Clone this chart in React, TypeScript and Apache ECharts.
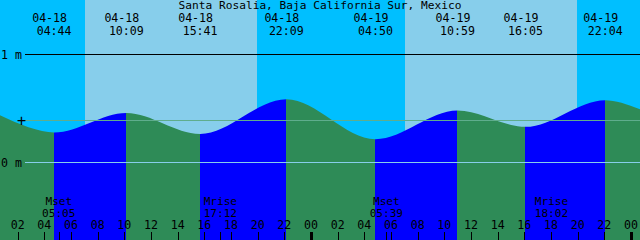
import React, { useEffect, useRef } from "react";
import * as echarts from "echarts";

const title = "Santa Rosalia, Baja California Sur, Mexico";

// Tide extremes. The first and last ones lie just outside the chart and only shape its edges.
const tideDates = ["04-17", "04-18", "04-18", "04-18", "04-18", "04-19", "04-19", "04-19", "04-19", "04-20"];
const tideTimes = ["21:36", "04:44", "10:09", "15:41", "22:09", "04:50", "10:59", "16:05", "22:04", "05:00"];
const tideLevels = [0.647, 0.278, 0.459, 0.265, 0.586, 0.216, 0.481, 0.33, 0.577, 0.206];
const tideLabelled = [false, true, true, true, true, true, true, true, true, false];

const sunriseDates = ["04-18", "04-19"];
const sunriseTimes = ["07:03", "07:03"];
const sunsetDates = ["04-18", "04-19"];
const sunsetTimes = ["19:56", "19:57"];

const moonNames = ["Mset", "Mrise", "Mset", "Mrise"];
const moonDates = ["04-18", "04-18", "04-19", "04-19"];
const moonTimes = ["05:05", "17:12", "05:39", "18:02"];

const hourTicks = [2, 4, 6, 8, 10, 12, 14, 16, 18, 20, 22, 24, 26, 28, 30, 32, 34, 36, 38, 40, 42, 44, 46, 48];
const hourLabels = ["02", "04", "06", "08", "10", "12", "14", "16", "18", "20", "22", "00",
  "02", "04", "06", "08", "10", "12", "14", "16", "18", "20", "22", "00"];

const levelValues = [1, 0.389, 0];
const levelLabels = ["1 m", "+", "0 m"];

// axis extents (hours since 04-18 00:00, metres)
const X_MIN = 0.675;
const X_MAX = 48.675;
const Y_MIN = -0.7176;
const Y_MAX = 1.5046;

const DAY = "#87CEEB";
const NIGHT = "#00BFFF";
const RISE = "#0000FF";
const FALL = "#2E8B57";
const FONT = "DejaVu Sans Mono";
const FS = 11.6;

function toHours(date: string, time: string): number {
  const day = Number(date.slice(3)) - 18;
  const [h, m] = time.split(":").map(Number);
  return day * 24 + h + m / 60;
}

const tideHours = tideTimes.map((t, i) => toHours(tideDates[i], t));
const sunrises = sunriseTimes.map((t, i) => toHours(sunriseDates[i], t));
const sunsets = sunsetTimes.map((t, i) => toHours(sunsetDates[i], t));
const moonHours = moonTimes.map((t, i) => toHours(moonDates[i], t));

function buildOption(): any {
  const bg: number[][] = [];
  let start = X_MIN;
  sunrises.forEach((sr, i) => {
    bg.push([start, sr, 0]);
    bg.push([sr, sunsets[i], 1]);
    start = sunsets[i];
  });
  bg.push([start, X_MAX, 0]);

  const pieces: any[] = [];
  for (let i = 0; i < tideHours.length - 1; i++) {
    pieces.push({
      gt: tideHours[i],
      lte: tideHours[i + 1],
      color: tideLevels[i + 1] > tideLevels[i] ? RISE : FALL,
    });
  }

  const labelled = tideHours
    .map((t, i) => ({ t, i }))
    .filter((d) => tideLabelled[d.i]);

  const txt = (text: string, x: number, y: number, align = "center", size = FS) => ({
    type: "text",
    x,
    y,
    style: {
      text,
      fill: "#000",
      fontFamily: FONT,
      fontSize: size,
      lineHeight: 10,
      align,
      verticalAlign: "middle",
    },
  });

  return {
    animation: false,
    grid: { left: 0, right: 0, top: 0, bottom: 0, containLabel: false },
    xAxis: {
      type: "value",
      min: X_MIN,
      max: X_MAX,
      show: false,
    },
    yAxis: {
      type: "value",
      min: Y_MIN,
      max: Y_MAX,
      show: false,
    },
    graphic: [
      {
        type: "text",
        x: 320,
        y: 5.6,
        z: 100,
        style: {
          text: title,
          fill: "#000",
          fontFamily: FONT,
          fontSize: 11.2,
          lineHeight: 10,
          align: "center",
          verticalAlign: "middle",
        },
      },
    ],
    visualMap: {
      type: "piecewise",
      show: false,
      dimension: 0,
      seriesIndex: 1,
      pieces,
    },
    series: [
      {
        type: "custom",
        z: 1,
        silent: true,
        clip: true,
        data: bg,
        renderItem: (params: any, api: any) => {
          const p0 = api.coord([api.value(0), Y_MAX]);
          const p1 = api.coord([api.value(1), Y_MIN]);
          const x0 = Math.round(p0[0]);
          const x1 = Math.round(p1[0]);
          return {
            type: "rect",
            shape: { x: x0, y: p0[1], width: x1 - x0, height: p1[1] - p0[1] },
            style: { fill: api.value(2) ? DAY : NIGHT },
          };
        },
      },
      {
        type: "line",
        z: 2,
        silent: true,
        clip: true,
        data: tideHours.map((t, i) => [t, tideLevels[i]]),
        smooth: 0.34,
        smoothMonotone: "x",
        symbol: "none",
        showSymbol: false,
        lineStyle: { width: 0, opacity: 0 },
        areaStyle: { opacity: 1, origin: "start" },
      },
      {
        type: "custom",
        z: 3,
        silent: true,
        clip: false,
        data: levelValues.map((v) => [X_MIN, v]),
        renderItem: (params: any, api: any) => {
          const i = params.dataIndex;
          const y = Math.floor(api.coord([X_MIN, api.value(1)])[1]) + 0.5;
          const colors = ["#000000", "#5FAD8D", "#87CEEB"];
          const children: any[] = [
            {
              type: "line",
              shape: { x1: 25, y1: y, x2: 640, y2: y },
              style: { stroke: colors[i], lineWidth: 1 },
            },
          ];
          if (levelLabels[i] === "+") {
            children.push(txt(levelLabels[i], 21.5, y + 0.5, "center", 15));
          } else {
            children.push(txt(levelLabels[i], 1, y, "left"));
          }
          return { type: "group", children };
        },
      },
      {
        type: "custom",
        z: 4,
        silent: true,
        clip: false,
        data: labelled.map((d) => [d.t, tideLevels[d.i], d.i]),
        renderItem: (params: any, api: any) => {
          const i = api.value(2);
          const x = api.coord([api.value(0), 0])[0];
          return {
            type: "group",
            children: [txt(tideDates[i], x - 4.5, 18.1), txt(tideTimes[i], x, 30.5)],
          };
        },
      },
      {
        type: "custom",
        z: 4,
        silent: true,
        clip: false,
        data: moonHours.map((t) => [t, 0]),
        renderItem: (params: any, api: any) => {
          const i = params.dataIndex;
          const x = api.coord([api.value(0), 0])[0];
          const bottom = api.coord([api.value(0), Y_MIN])[1];
          const tx = Math.round(x);
          return {
            type: "group",
            children: [
              txt(moonNames[i], x, 201.5, "center", 11.1),
              txt(moonTimes[i], x, 213, "center", 11.1),
              {
                type: "rect",
                shape: { x: tx, y: bottom - 8, width: 1, height: 8 },
                style: { fill: "#000" },
              },
            ],
          };
        },
      },
      {
        type: "custom",
        z: 4,
        silent: true,
        clip: false,
        data: hourTicks.map((t) => [t, 0]),
        renderItem: (params: any, api: any) => {
          const i = params.dataIndex;
          const x = api.coord([api.value(0), 0])[0];
          const bottom = api.coord([api.value(0), Y_MIN])[1];
          const midnight = hourLabels[i] === "00";
          const w = midnight ? 3 : 1;
          const tx = Math.round(x - (w - 1) / 2);
          return {
            type: "group",
            children: [
              txt(hourLabels[i], x, 225.3),
              {
                type: "rect",
                shape: { x: tx, y: bottom - 8, width: w, height: 8 },
                style: { fill: "#000" },
              },
            ],
          };
        },
      },
    ],
  };
}

export default function App() {
  const ref = useRef<HTMLDivElement>(null);
  useEffect(() => {
    document.body.style.margin = "0";
    if (!ref.current) return;
    const chart = echarts.init(ref.current, undefined, { renderer: "svg" });
    chart.setOption(buildOption());
    return () => chart.dispose();
  }, []);
  return <div ref={ref} style={{ width: 640, height: 240 }} />;
}
